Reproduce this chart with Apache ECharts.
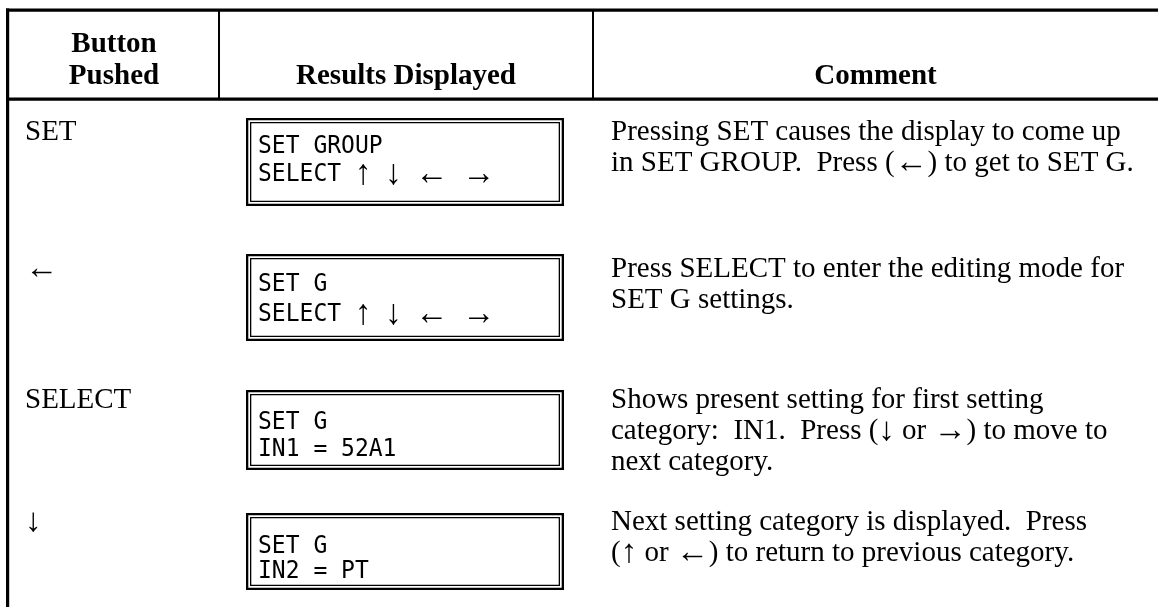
<!DOCTYPE html>
<html>
<head>
<meta charset="utf-8">
<script src="https://cdn.jsdelivr.net/npm/echarts@6/dist/echarts.min.js"></script>
<style>
html,body{margin:0;padding:0;background:#fff;}
#chart{width:1158px;height:607px;}
</style>
</head>
<body>
<div id="chart"></div>
<script>
// ---- table content ----
const headerButton = ['Button', 'Pushed'];
const headerResults = ['Results Displayed'];
const headerComment = ['Comment'];
const buttons = ['SET', '←', 'SELECT', '↓'];
const displayLine1 = ['SET GROUP', 'SET G', 'SET G', 'SET G'];
const displayLine2 = ['SELECT ↑ ↓ ← →', 'SELECT ↑ ↓ ← →', 'IN1 = 52A1', 'IN2 = PT'];
const comments = [
  ['Pressing SET causes the display to come up', 'in SET GROUP.  Press (←) to get to SET G.'],
  ['Press SELECT to enter the editing mode for', 'SET G settings.'],
  ['Shows present setting for first setting', 'category:  IN1.  Press (↓ or →) to move to', 'next category.'],
  ['Next setting category is displayed.  Press', '(↑ or ←) to return to previous category.']
];

// ---- layout (pixels) ----
const W = 1158, H = 607;
const SERIF = '"Liberation Serif","DejaVu Serif",serif';
const MONO = '"DejaVu Sans Mono","Liberation Mono",monospace';
const serifSize = 29, monoSize = 23, arrowSize = 33;
const serifMidOff = 9.8;      // baseline -> middle
const colDivX = [219, 593];
const boxX = [246, 564];
const textX = [25, 258, 611];
const rowBase = [142, 279, 410, 532];
const boxTop = [118, 254, 390, 513];
const boxBottom = [206, 341, 470, 590];
const boxLineY = [[146.5, 175], [285, 315], [423, 450], [547, 572]];
const commentGap = 31;
const headerBase = [54, 86.5];

const arrows = '←↑→↓';
function richLine(s) {
  let out = '', cur = null, buf = '';
  for (const ch of s) {
    const k = arrows.indexOf(ch) >= 0 ? 'a' : 'm';
    if (k !== cur) { if (buf) out += '{' + cur + '|' + buf + '}'; buf = ''; cur = k; }
    buf += ch;
  }
  if (buf) out += '{' + cur + '|' + buf + '}';
  return out;
}
const arrowStyle = {fontFamily: SERIF, fontSize: arrowSize, fill: '#000'};
const serifRich = {m: {fontFamily: SERIF, fontSize: serifSize, fill: '#000'}, a: arrowStyle};
const monoRich = {m: {fontFamily: MONO, fontSize: monoSize, fill: '#000'}, a: arrowStyle};

const chart = echarts.init(document.getElementById('chart'), null, {renderer: 'canvas'});

function txt(x, y, text, opts) {
  return {
    type: 'text',
    style: Object.assign({
      x: x, y: y, text: text, fill: '#000',
      fontFamily: SERIF, fontSize: serifSize,
      align: 'left', verticalAlign: 'middle'
    }, opts || {})
  };
}
function richTxt(x, y, s, rich, scaleY) {
  return {
    type: 'text', x: x, y: y, scaleY: scaleY || 1,
    style: {x: 0, y: 0, text: richLine(s), fill: '#000', align: 'left', verticalAlign: 'middle', rich: rich}
  };
}

function renderRow(params, api) {
  const i = api.value(0);
  const c = (x, y) => api.coord([x, y]);
  const kids = [];
  // button column
  let p = c(textX[0], rowBase[i] - serifMidOff);
  kids.push(richTxt(p[0], p[1], buttons[i], serifRich));
  // display box (double border)
  const tl = c(boxX[0], boxTop[i]);
  const br = c(boxX[1], boxBottom[i]);
  const w = br[0] - tl[0], h = br[1] - tl[1];
  kids.push({type: 'rect', shape: {x: tl[0] + 1.15, y: tl[1] + 1.15, width: w - 2.3, height: h - 2.3},
    style: {fill: 'none', stroke: '#000', lineWidth: 2.3}});
  kids.push({type: 'rect', shape: {x: tl[0] + 4.65, y: tl[1] + 4.65, width: w - 9.3, height: h - 9.3},
    style: {fill: 'none', stroke: '#000', lineWidth: 1.3}});
  [displayLine1[i], displayLine2[i]].forEach((s, k) => {
    const q = c(textX[1], boxLineY[i][k]);
    kids.push(richTxt(q[0], q[1], s, monoRich, 1.08));
  });
  // comment column
  comments[i].forEach((s, k) => {
    const q = c(textX[2], rowBase[i] + k * commentGap - serifMidOff);
    kids.push(richTxt(q[0], q[1], s, serifRich));
  });
  return {type: 'group', children: kids};
}

const bold = {fontWeight: 'bold', align: 'center'};
const graphics = [
  {type: 'rect', shape: {x: 6, y: 8.5, width: W - 6, height: 3.2}, style: {fill: '#000'}},
  {type: 'rect', shape: {x: 6, y: 8.5, width: 3.2, height: H - 8.5}, style: {fill: '#000'}},
  {type: 'rect', shape: {x: 6, y: 97.5, width: W - 6, height: 3.2}, style: {fill: '#000'}},
  {type: 'rect', shape: {x: colDivX[0] - 1, y: 11, width: 2, height: 87}, style: {fill: '#000'}},
  {type: 'rect', shape: {x: colDivX[1] - 1, y: 11, width: 2, height: 87}, style: {fill: '#000'}},
  txt(114, headerBase[0] - serifMidOff, headerButton[0], bold),
  txt(114, headerBase[1] - serifMidOff, headerButton[1], bold),
  txt(406, headerBase[1] - serifMidOff, headerResults[0], bold),
  txt(875.5, headerBase[1] - serifMidOff, headerComment[0], bold)
];

chart.setOption({
  animation: false,
  backgroundColor: '#fff',
  grid: {left: 0, right: 0, top: 0, bottom: 0},
  xAxis: {type: 'value', min: 0, max: W, show: false},
  yAxis: {type: 'value', min: 0, max: H, inverse: true, show: false},
  graphic: graphics,
  series: [{
    type: 'custom',
    coordinateSystem: 'cartesian2d',
    renderItem: renderRow,
    data: buttons.map((b, i) => [i]),
    silent: true
  }]
});
</script>
</body>
</html>
